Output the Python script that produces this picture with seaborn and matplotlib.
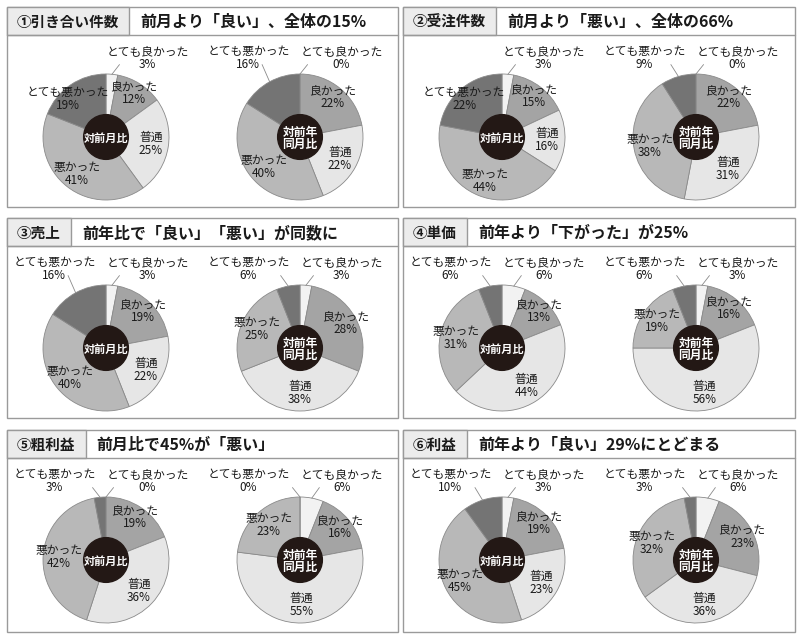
import numpy as np
import matplotlib
matplotlib.use("Agg")
import matplotlib.pyplot as plt
import matplotlib.patches as mpatches
import seaborn as sns

# ---- data ----
categories = ["とても良かった", "良かった", "普通", "悪かった", "とても悪かった"]
panel_tags = ["①引き合い件数", "②受注件数", "③売上", "④単価", "⑤粗利益", "⑥利益"]
panel_titles = [
    "前月より「良い」、全体の15%",
    "前月より「悪い」、全体の66%",
    "前年比で「良い」「悪い」が同数に",
    "前年より「下がった」が25%",
    "前月比で45%が「悪い」",
    "前年より「良い」29%にとどまる",
]
center_labels = ["対前月比", "対前年\n同月比"]

# 対前月比 / 対前年同月比 (%), order as categories
inquiries_mom = [3, 12, 25, 41, 19]
inquiries_yoy = [0, 22, 22, 40, 16]
orders_mom = [3, 15, 16, 44, 22]
orders_yoy = [0, 22, 31, 38, 9]
sales_mom = [3, 19, 22, 40, 16]
sales_yoy = [3, 28, 38, 25, 6]
price_mom = [6, 13, 44, 31, 6]
price_yoy = [3, 16, 56, 19, 6]
gross_mom = [0, 19, 36, 42, 3]
gross_yoy = [6, 16, 55, 23, 0]
profit_mom = [3, 19, 23, 45, 10]
profit_yoy = [6, 23, 36, 32, 3]

panel_data = [
    (inquiries_mom, inquiries_yoy),
    (orders_mom, orders_yoy),
    (sales_mom, sales_yoy),
    (price_mom, price_yoy),
    (gross_mom, gross_yoy),
    (profit_mom, profit_yoy),
]

# ---- style ----
sns.set_theme(style="white")
plt.rcParams["font.family"] = ["Noto Sans CJK JP", "DejaVu Sans"]

colors = ["#f2f2f2", "#a4a4a4", "#e6e6e6", "#b8b8b8", "#747474"]
edge = "#8a8a8a"
ink = "#231815"
txt = "#1a1a1a"

W, H = 800, 634
fig = plt.figure(figsize=(W / 100, H / 100), dpi=100)
fig.patch.set_facecolor("white")

bg = fig.add_axes([0, 0, 1, 1])
bg.set_xlim(0, W)
bg.set_ylim(H, 0)
bg.axis("off")

col_lr = [(7, 398), (403, 795)]
row_tb = [(7, 207), (218, 418), (430, 632)]
bar_h = 28
R = 63
K = 1.55
label_r = [1.0, 0.82, 0.72, 0.75, 0.85]

renderer = fig.canvas.get_renderer()


def pie_axes(cx, cy):
    s = 2 * R * K
    return fig.add_axes([(cx - s / 2) / W, 1 - (cy + s / 2) / H, s / W, s / H])


def draw_donut(ax, values, center_text):
    ax.pie(values, colors=colors, startangle=90, counterclock=False, radius=1,
           wedgeprops=dict(edgecolor=edge, linewidth=0.6))
    ax.add_patch(mpatches.Circle((0, 0), 0.355, color=ink, zorder=3))
    fs = 8 if "\n" not in center_text else 8.5
    ax.text(0, -0.02, center_text, ha="center", va="center", color="white",
            fontsize=fs, fontweight="bold", linespacing=0.95, zorder=4)
    cum = 0
    for i, (cat, v) in enumerate(zip(categories, values)):
        mid_deg = 3.6 * (cum + v / 2)
        cum += v
        label = f"{cat}\n{v}%"
        outside = i == 0 or (i == 4 and v < 18)
        if outside:
            mid = np.deg2rad(mid_deg)
            ex, ey = np.sin(mid), np.cos(mid)
            side = 1 if i == 0 else -1
            tx = 0.66 if i == 0 else -0.82
            ax.plot([ex, ex + side * 0.12], [ey, 1.15], color=edge, lw=0.6,
                    clip_on=False)
            ax.text(tx, 1.25, label, ha="center", va="center", fontsize=8.5,
                    color=txt, linespacing=1.0)
        else:
            if i == 4:
                mid_deg = min(mid_deg, 315)
            mid = np.deg2rad(mid_deg)
            rr = label_r[i]
            ax.text(rr * np.sin(mid), rr * np.cos(mid), label, ha="center",
                    va="center", fontsize=8.5, color=txt, linespacing=1.0,
                    zorder=5)
    ax.set_xlim(-K, K)
    ax.set_ylim(-K, K)
    ax.axis("off")


for p, (tag, title, (mom, yoy)) in enumerate(zip(panel_tags, panel_titles, panel_data)):
    l, r = col_lr[p % 2]
    t, b = row_tb[p // 2]
    bg.add_patch(mpatches.Rectangle((l, t), r - l, b - t, facecolor="white",
                                    edgecolor="#9a9a9a", lw=1))
    tag_txt = bg.text(l + 10, t + bar_h / 2 + 1, tag, ha="left", va="center",
                      fontsize=10.5, fontweight="bold", color=txt, zorder=3)
    tw = tag_txt.get_window_extent(renderer).width
    bw = tw + 20
    bg.add_patch(mpatches.Rectangle((l, t), bw, bar_h, facecolor="#ececec",
                                    edgecolor="#9a9a9a", lw=1, zorder=2))
    bg.plot([l, r], [t + bar_h, t + bar_h], color="#9a9a9a", lw=1)
    bg.text(l + bw + 11, t + bar_h / 2 + 1, title, ha="left", va="center",
            fontsize=11.5, fontweight="bold", color=txt)

    cy = t + 130
    draw_donut(pie_axes(l + 99, cy), mom, center_labels[0])
    draw_donut(pie_axes(l + 293, cy), yoy, center_labels[1])

fig.savefig("out.png", dpi=100, facecolor="white")
